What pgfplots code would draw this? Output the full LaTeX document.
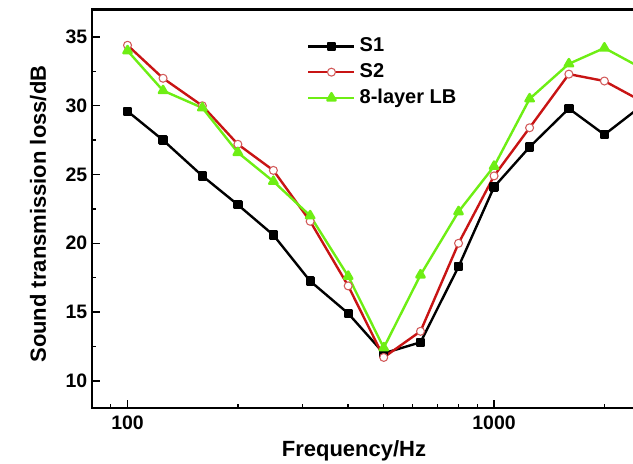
\documentclass[border=0pt]{standalone}
\usepackage{fontspec}
\setmainfont{Liberation Sans}
\usepackage{pgfplots}
\pgfplotsset{compat=1.18}
\definecolor{sred}{RGB}{200,20,20}
\definecolor{sredlight}{RGB}{210,90,90}
\definecolor{sgreen}{RGB}{110,238,20}
\begin{document}
\begin{tikzpicture}
\path[use as bounding box] (-69pt,-41.03pt) rectangle (405.75pt,306.23pt);
\clip (-69pt,-41.03pt) rectangle (405.75pt,306.23pt);
\begin{axis}[
  at={(0,0)}, anchor=south west,
  scale only axis, width=493.7pt, height=299.1pt,
  xmode=log, xmin=80, xmax=5000, ymin=8, ymax=37,
  xtick={100,1000}, xticklabels={100,1000},
  minor xtick={90,200,300,400,500,600,700,800,900,2000,3000,4000},
  ytick={10,15,20,25,30,35}, minor ytick={12.5,17.5,22.5,27.5,32.5},
  xtick pos=left, ytick pos=left,
  tick align=inside,
  major tick length=6pt, minor tick length=3pt,
  every tick/.style={black, line width=1.1pt},
  axis line style={line width=1.6pt},
  tick label style={font=\bfseries\fontsize{14.6}{17}\selectfont},
  /pgf/number format/assume math mode=true,
  xticklabel style={yshift=-2.5pt},
  xlabel={Frequency/Hz}, ylabel={Sound transmission loss/dB},
  label style={font=\bfseries\fontsize{16.5}{19}\selectfont},
  xlabel style={at={(axis description cs:0.398,-0.1066)}, anchor=center},
  ylabel style={at={(axis description cs:-0.082,0.487)}, anchor=center},
  legend cell align=left,
  legend style={draw=none, fill=none, at={(axis description cs:0.3266,0.935)}, anchor=north west,
    font=\bfseries\fontsize{15}{18}\selectfont, inner sep=0pt, row sep=3.35pt,
    nodes={text height=11pt, text depth=3pt, inner sep=1pt},
    /tikz/every odd column/.append style={column sep=2pt}},
  legend image code/.code={\draw[mark repeat=2,mark phase=2,#1] plot coordinates {(0pt,0pt) (17.25pt,0pt) (34.5pt,0pt)};},
]
\addplot[black, line width=1.8pt, line join=round, mark=square*, mark size=2.6pt, mark options={solid, fill=black}] table {
x y
100 29.6
125 27.5
160 24.9
200 22.8
250 20.6
315 17.25
400 14.9
500 12.0
630 12.8
800 18.3
1000 24.1
1250 27.0
1600 29.8
2000 27.9
2500 29.9
};
\addlegendentry{S1}
\addplot[sred, line width=1.8pt, line join=round, mark=*, mark size=3pt, mark options={solid, fill=white, draw=sredlight, line width=0.8pt}] table {
x y
100 34.4
125 32.0
160 30.0
200 27.2
250 25.3
315 21.6
400 16.9
500 11.7
630 13.6
800 20.0
1000 24.9
1250 28.4
1600 32.3
2000 31.8
2500 30.4
};
\addlegendentry{S2}
\addplot[sgreen, line width=1.8pt, line join=round, mark=triangle*, mark size=3.6pt, mark options={solid, fill=sgreen}] table {
x y
100 34.0
125 31.1
160 29.85
200 26.6
250 24.5
315 22.0
400 17.6
500 12.4
630 17.7
800 22.3
1000 25.6
1250 30.5
1600 33.05
2000 34.2
2500 32.8
};
\addlegendentry{8-layer LB}
\end{axis}
\end{tikzpicture}
\end{document}
